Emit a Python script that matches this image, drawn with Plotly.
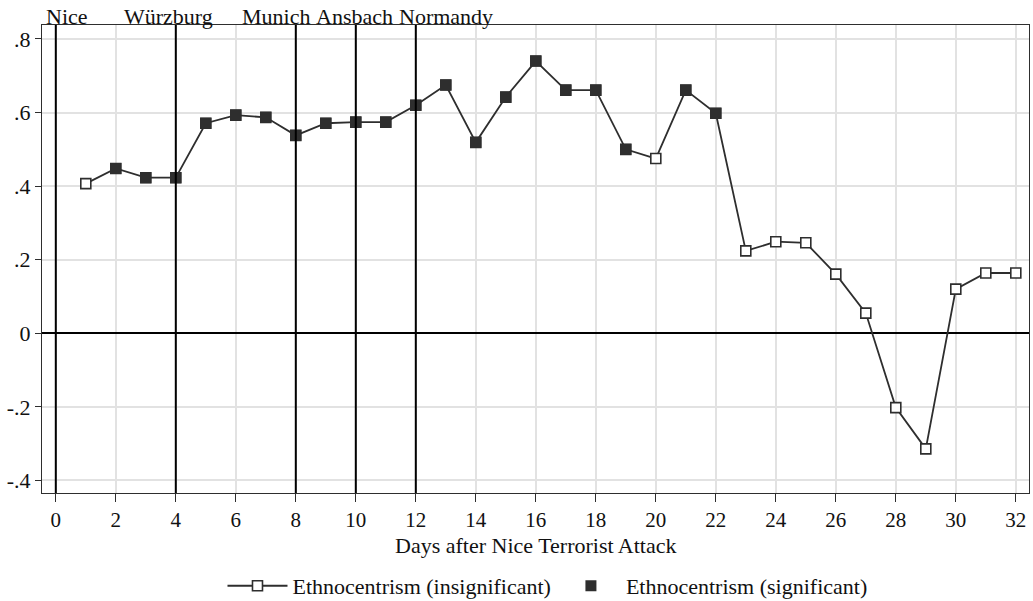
import plotly.graph_objects as go

days = list(range(1, 33))
values = [0.407, 0.448, 0.423, 0.423, 0.571, 0.593, 0.587, 0.538, 0.571, 0.574,
          0.574, 0.620, 0.675, 0.519, 0.642, 0.740, 0.661, 0.661, 0.500, 0.475,
          0.661, 0.598, 0.224, 0.249, 0.246, 0.161, 0.055, -0.202, -0.314, 0.120,
          0.164, 0.164]
significant = [False] + [True] * 18 + [False] + [True, True] + [False] * 10

event_days = [0, 4, 8, 10, 12]
event_labels = ["Nice", "Würzburg", "Munich", "Ansbach", "Normandy"]
event_label_x = [0.38, 3.74, 7.35, 9.94, 13.0]

x_ticks = list(range(0, 33, 2))
y_ticks = [-0.4, -0.2, 0, 0.2, 0.4, 0.6, 0.8]
y_ticktext = ["-.4", "-.2", "0", ".2", ".4", ".6", ".8"]

FONT = "Liberation Serif"
DARK = "#2e2e2e"

fig = go.Figure()
fig.add_trace(go.Scatter(
    x=days, y=values, mode="lines+markers", name="Ethnocentrism (insignificant)",
    line=dict(color=DARK, width=1.8),
    marker=dict(symbol="square", size=10, color="white", line=dict(color=DARK, width=1.6)),
))
sig_x = [d for d, s in zip(days, significant) if s]
sig_y = [v for v, s in zip(values, significant) if s]
fig.add_trace(go.Scatter(
    x=sig_x, y=sig_y, mode="markers", name="Ethnocentrism (significant)",
    marker=dict(symbol="square", size=11, color=DARK, line=dict(width=0)),
))

for d in event_days:
    fig.add_shape(type="line", xref="x", yref="paper", x0=d, x1=d, y0=0, y1=1,
                  line=dict(color="black", width=2), layer="above")
for lx, lab in zip(event_label_x, event_labels):
    fig.add_annotation(x=lx, y=1, xref="x", yref="paper", text=lab, showarrow=False,
                       xanchor="center", yanchor="bottom", yshift=-6,
                       font=dict(family=FONT, size=22, color="#111"))

fig.add_annotation(x=0.5, y=0, xref="paper", yref="paper",
                   text="Days after Nice Terrorist Attack", showarrow=False,
                   xanchor="center", yanchor="top", yshift=-38,
                   font=dict(family=FONT, size=22, color="#111"))

fig.update_layout(
    width=1033, height=601,
    margin=dict(l=42, r=4, t=25, b=108),
    paper_bgcolor="white", plot_bgcolor="white",
    font=dict(family=FONT, size=22, color="#111"),
    showlegend=True,
    legend=dict(orientation="h", xref="container", yref="container",
                x=0.53, y=0.025, xanchor="center", yanchor="middle",
                font=dict(family=FONT, size=22, color="#111"),
                itemwidth=60, tracegroupgap=0),
)
fig.update_xaxes(
    range=[-0.46, 32.44], tickvals=x_ticks, ticks="outside", ticklen=8,
    tickcolor=DARK, showgrid=True, gridcolor="#e2e2e2", gridwidth=1.5,
    showline=True, linecolor=DARK, linewidth=1, mirror=True, zeroline=False,
    tickfont=dict(family=FONT, size=21),
)
fig.update_yaxes(
    range=[-0.434, 0.838], tickvals=y_ticks, ticktext=y_ticktext, ticks="outside",
    ticklen=6, tickcolor=DARK, showgrid=True, gridcolor="#e2e2e2", gridwidth=1.5,
    showline=True, linecolor=DARK, linewidth=1, mirror=True,
    zeroline=True, zerolinecolor="black", zerolinewidth=2,
    tickfont=dict(family=FONT, size=22),
)

fig.write_html("out.html", config={"displayModeBar": False},
               post_script="document.body.style.margin='0';document.body.style.overflow='hidden';")
